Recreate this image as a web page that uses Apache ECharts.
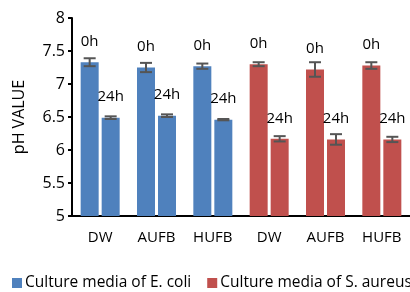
<!DOCTYPE html>
<html>
<head>
<meta charset="utf-8">
<script src="https://cdn.jsdelivr.net/npm/echarts@6/dist/echarts.min.js"></script>
<style>
  html, body { margin: 0; padding: 0; background: #fff; }
  #chart { width: 410px; height: 292px; }
</style>
</head>
<body>
<div id="chart"></div>
<script>
const categories = ['DW', 'AUFB', 'HUFB', 'DW', 'AUFB', 'HUFB'];
const groupNames = ['Culture media of E. coli', 'Culture media of S. aureus'];
// first three categories = E. coli, last three = S. aureus
const ph0h = [7.33, 7.25, 7.27, 7.30, 7.22, 7.28];
const err0h = [0.06, 0.07, 0.04, 0.03, 0.11, 0.05];
const ph24h = [6.49, 6.52, 6.46, 6.17, 6.16, 6.16];
const err24h = [0.02, 0.02, 0.01, 0.04, 0.08, 0.04];
const yTicks = { min: 5, max: 8, interval: 0.5 };

const BLUE = '#4f81bd';
const RED = '#c0504d';
const FONT = 'Open Sans';
const barW = 18;
const gap = 3;

const colorOf = (i) => (i < 3 ? BLUE : RED);

const chart = echarts.init(document.getElementById('chart'));

const errSeries = (vals, errs, offset) => ({
  type: 'custom',
  silent: true,
  z: 5,
  data: vals.map((v, i) => [i, v - errs[i], v + errs[i]]),
  renderItem: (params, api) => {
    const lo = api.coord([api.value(0), api.value(1)]);
    const hi = api.coord([api.value(0), api.value(2)]);
    const x = lo[0] + offset;
    const cap = 6;
    const style = { stroke: '#555', lineWidth: 2 };
    return {
      type: 'group',
      children: [
        { type: 'line', shape: { x1: x, y1: lo[1], x2: x, y2: hi[1] }, style },
        { type: 'line', shape: { x1: x - cap, y1: lo[1], x2: x + cap, y2: lo[1] }, style },
        { type: 'line', shape: { x1: x - cap, y1: hi[1], x2: x + cap, y2: hi[1] }, style }
      ]
    };
  }
});

const barSeries = (name, vals) => ({
  name: name,
  type: 'bar',
  barWidth: barW,
  barGap: (gap / barW * 100) + '%',
  data: vals.map((v, i) => ({ value: v, itemStyle: { color: colorOf(i) } })),
  label: {
    show: true,
    position: 'top',
    distance: 13,
    formatter: name,
    fontFamily: FONT,
    fontSize: 15,
    color: '#000'
  }
});

const option = {
  backgroundColor: '#fff',
  animation: false,
  textStyle: { fontFamily: FONT },
  grid: { left: 72, right: -1, top: 18, bottom: 76 },
  legend: {
    data: groupNames,
    top: 275,
    left: 12,
    width: 400,
    padding: 0,
    icon: 'rect',
    itemWidth: 10,
    itemHeight: 10,
    itemGap: 16,
    itemStyle: { borderWidth: 0 },
    textStyle: { fontFamily: FONT, fontSize: 15.5, color: '#000', padding: [0, 0, 0, -2] }
  },
  xAxis: {
    type: 'category',
    data: categories,
    axisLine: { lineStyle: { color: '#000', width: 2 } },
    axisTick: { show: false },
    axisLabel: { margin: 14, fontFamily: FONT, fontSize: 15, color: '#000' }
  },
  yAxis: {
    type: 'value',
    min: yTicks.min,
    max: yTicks.max,
    interval: yTicks.interval,
    name: 'pH VALUE',
    nameLocation: 'middle',
    nameRotate: 90,
    nameGap: 45,
    nameTextStyle: { fontFamily: FONT, fontSize: 16, color: '#000' },
    axisLine: { show: true, lineStyle: { color: '#000', width: 2 } },
    axisTick: { show: true, length: 4, lineStyle: { color: '#000', width: 2 } },
    splitLine: { show: false },
    axisLabel: { margin: 7, fontFamily: FONT, fontSize: 16, color: '#000' }
  },
  series: [
    barSeries('0h', ph0h),
    barSeries('24h', ph24h),
    errSeries(ph0h, err0h, -(barW + gap) / 2),
    errSeries(ph24h, err24h, (barW + gap) / 2),
    // legend-only entries for the two culture media
    { name: groupNames[0], type: 'line', data: [], itemStyle: { color: BLUE } },
    { name: groupNames[1], type: 'line', data: [], itemStyle: { color: RED } }
  ]
};

chart.setOption(option);
</script>
</body>
</html>
